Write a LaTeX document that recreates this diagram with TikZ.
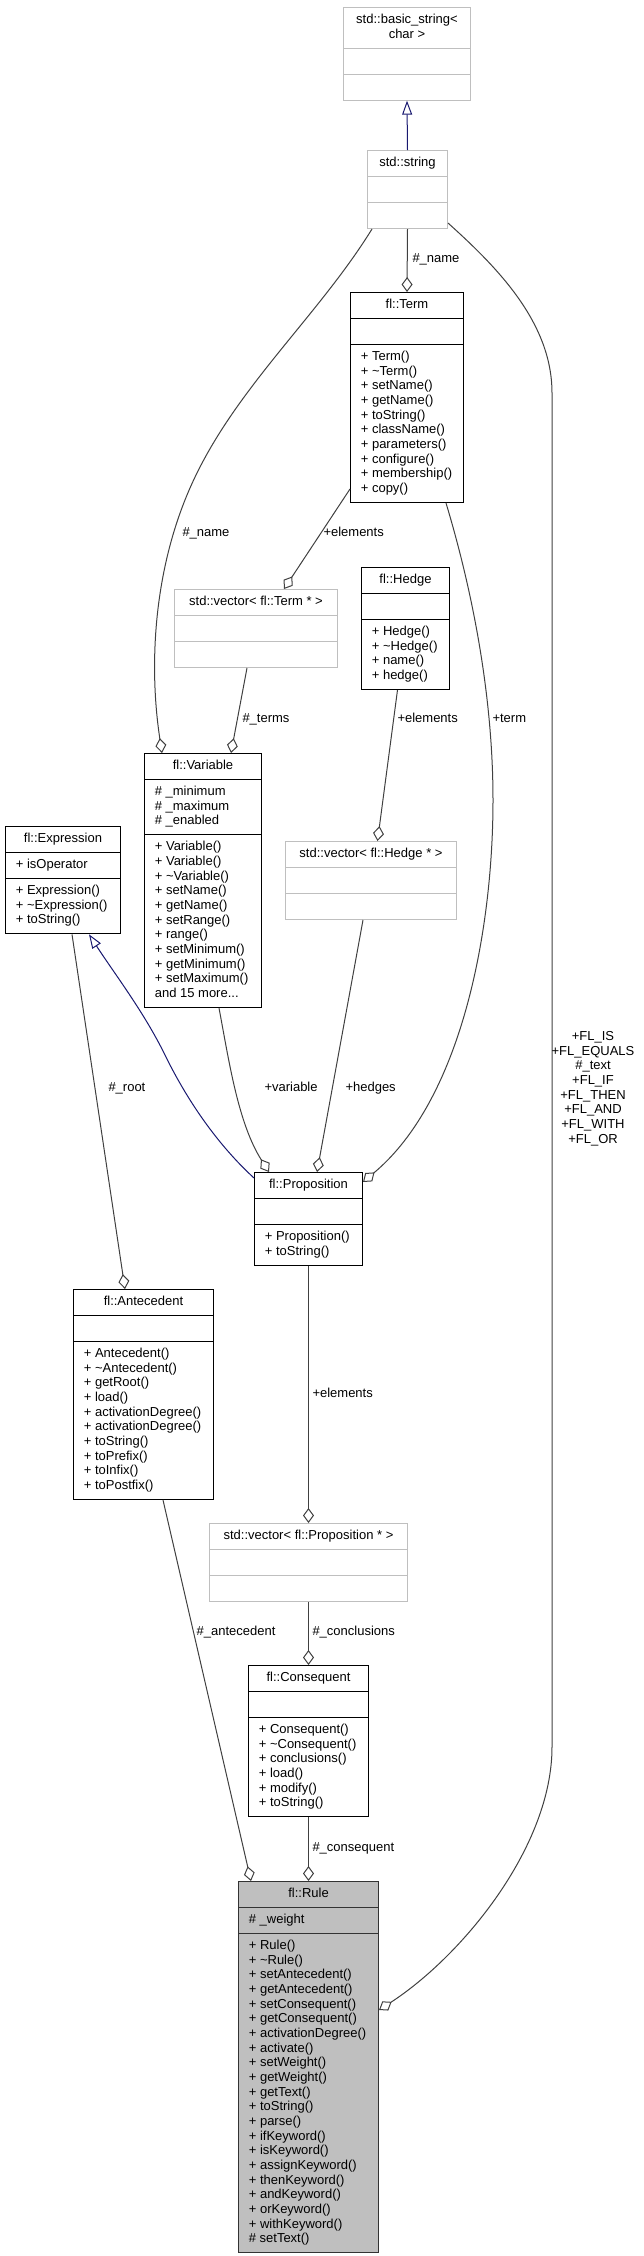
\documentclass[tikz,border=0pt]{standalone}
\usepackage{fontspec}
\setmainfont{Liberation Sans}
\usetikzlibrary{shapes.multipart, arrows.meta, calc}
\definecolor{edgegrey}{HTML}{404040}
\definecolor{stdgrey}{HTML}{BFBFBF}
\definecolor{inhblue}{HTML}{191970}
\definecolor{focusgrey}{HTML}{BFBFBF}

\begin{document}
\begin{tikzpicture}[x=0.75pt, y=-0.75pt, line width=0.75pt]

  \tikzstyle{cls}=[draw, fill=white, anchor=north west, rectangle split, rectangle split parts=3,
    rectangle split part align={center,left,left}, align=left,
    inner xsep=7.75pt, inner ysep=3.875pt,
    rectangle split empty part height=7.7pt, rectangle split empty part depth=3.3pt,
    font=\fontsize{9.75}{11}\selectfont]
  \tikzstyle{stdcls}=[cls, draw=stdgrey]
  \tikzstyle{focus}=[cls, fill=focusgrey, draw=black!80]
  \tikzstyle{lbl}=[inner sep=0pt, anchor=base west, font=\fontsize{9.75}{11}\selectfont]
  \tikzstyle{agg}=[draw=edgegrey, -{Diamond[open, length=11.25pt, width=8.25pt]}]
  \tikzstyle{inh}=[draw=inhblue, -{Triangle[open, length=10.5pt, width=7.5pt]}]

  \useasboundingbox (0,0) rectangle (643,2256);

  % std classes
  \node[stdcls, align=center, minimum width=95.25pt] (bstr) at (343,7)
    {\strut std::basic\_string<\\char >\strut \nodepart{two}\strut \nodepart{three}\strut};
  \node[stdcls, minimum width=60pt] (str) at (367,150)
    {\strut std::string \nodepart{two}\strut \nodepart{three}\strut};
  \node[stdcls, minimum width=122.25pt] (vterm) at (174,589)
    {\strut std::vector< fl::Term * > \nodepart{two}\strut \nodepart{three}\strut};
  \node[stdcls, minimum width=128.25pt] (vhedge) at (285,841)
    {\strut std::vector< fl::Hedge * > \nodepart{two}\strut \nodepart{three}\strut};
  \node[stdcls, minimum width=148.5pt] (vprop) at (209,1523)
    {\strut std::vector< fl::Proposition * > \nodepart{two}\strut \nodepart{three}\strut};

  % fl classes
  \node[cls, minimum width=84.75pt] (term) at (350,292)
    {\strut fl::Term \nodepart{two}\strut
     \nodepart{three}\strut + Term()\\ + \textasciitilde Term()\\ + setName()\\ + getName()\\
     + toString()\\ + className()\\ + parameters()\\ + configure()\\ + membership()\\ + copy()\strut};
  \node[cls, minimum width=66pt] (hedge) at (361,567)
    {\strut fl::Hedge \nodepart{two}\strut
     \nodepart{three}\strut + Hedge()\\ + \textasciitilde Hedge()\\ + name()\\ + hedge()\strut};
  \node[cls, minimum width=87.75pt] (var) at (144,753)
    {\strut fl::Variable
     \nodepart{two}\strut \# \_minimum\\ \# \_maximum\\ \# \_enabled\strut
     \nodepart{three}\strut + Variable()\\ + Variable()\\ + \textasciitilde Variable()\\ + setName()\\
     + getName()\\ + setRange()\\ + range()\\ + setMinimum()\\ + getMinimum()\\ + setMaximum()\\
     and 15 more...\strut};
  \node[cls, minimum width=86.25pt] (expr) at (5,826)
    {\strut fl::Expression \nodepart{two}\strut + isOperator
     \nodepart{three}\strut + Expression()\\ + \textasciitilde Expression()\\ + toString()\strut};
  \node[cls, minimum width=81pt] (prop) at (254,1172)
    {\strut fl::Proposition \nodepart{two}\strut
     \nodepart{three}\strut + Proposition()\\ + toString()\strut};
  \node[cls, minimum width=105pt] (ante) at (73,1289)
    {\strut fl::Antecedent \nodepart{two}\strut
     \nodepart{three}\strut + Antecedent()\\ + \textasciitilde Antecedent()\\ + getRoot()\\ + load()\\
     + activationDegree()\\ + activationDegree()\\ + toString()\\ + toPrefix()\\ + toInfix()\\
     + toPostfix()\strut};
  \node[cls, minimum width=90pt] (cons) at (248,1665)
    {\strut fl::Consequent \nodepart{two}\strut
     \nodepart{three}\strut + Consequent()\\ + \textasciitilde Consequent()\\ + conclusions()\\ + load()\\
     + modify()\\ + toString()\strut};
  \node[focus, minimum width=105pt] (rule) at (238,1881)
    {\strut fl::Rule \nodepart{two}\strut \# \_weight
     \nodepart{three}\strut + Rule()\\ + \textasciitilde Rule()\\ + setAntecedent()\\ + getAntecedent()\\
     + setConsequent()\\ + getConsequent()\\ + activationDegree()\\ + activate()\\ + setWeight()\\
     + getWeight()\\ + getText()\\ + toString()\\ + parse()\\ + ifKeyword()\\ + isKeyword()\\
     + assignKeyword()\\ + thenKeyword()\\ + andKeyword()\\ + orKeyword()\\ + withKeyword()\\
     \# setText()\strut};

  % inheritance
  \draw[inh] (str.north) -- (bstr.south);
  \draw[inh] ($(prop.north west)+(0,6)$) .. controls (217,1144) and (187,1100) .. (165,1055)
    .. controls (144,1012) and (114,973) .. ($(expr.south west)+(84,0)$);

  % usage
  \draw[agg] (str.south) -- (term.north);
  \draw[agg] ($(str.south west)+(5,0)$) .. controls (317,318) and (233,390) .. (190,488)
    .. controls (154,570) and (148.5,664) .. ($(var.north west)+(18,0)$);
  \draw[agg] ($(term.south west)+(0,-14)$) -- ($(vterm.north west)+(110,0)$);
  \draw[agg] ($(vterm.south west)+(73,0)$) -- ($(var.north west)+(87,0)$);
  \draw[agg] ($(hedge.south)+(-8,0)$) -- ($(vhedge.north)+(6.5,0)$);
  \draw[agg] ($(term.south east)+(-18,0)$) .. controls (474,596) and (493,700) .. (493,800)
    .. controls (493,930) and (462,1099) .. ($(prop.north east)+(0,10)$);
  \draw[agg] ($(var.south west)+(75,0)$) .. controls (229,1061) and (238,1123) .. ($(prop.north west)+(15,0)$);
  \draw[agg] ($(vhedge.south west)+(78,0)$) -- ($(prop.north west)+(63,0)$);
  \draw[agg] ($(expr.south west)+(67,0)$) -- ($(ante.north west)+(52,0)$);
  \draw[agg] (prop.south) -- (vprop.north);
  \draw[agg] (vprop.south) -- (cons.north);
  \draw[agg] (cons.south) -- (rule.north);
  \draw[agg] ($(ante.south west)+(90,0)$) -- ($(rule.north west)+(13,0)$);
  \draw[agg] ($(str.south east)+(0,-6)$) .. controls (498,268) and (552,323) .. (552,393)
    -- (552,1747) .. controls (552,1847) and (462,1956) .. ($(rule.north east)+(0,129)$);

  % edge labels
  \node[lbl] (l-name1) at (412,262.5) {\#\_name};
  \node[lbl] (l-name2) at (182,536.5) {\#\_name};
  \node[lbl] (l-elem1) at (323,536.5) {+elements};
  \node[lbl] (l-terms) at (242,722.5) {\#\_terms};
  \node[lbl] (l-elem2) at (397,722.5) {+elements};
  \node[lbl] (l-term) at (492,722.5) {+term};
  \node[lbl] (l-var) at (264,1091.5) {+variable};
  \node[lbl] (l-hedges) at (345,1091.5) {+hedges};
  \node[lbl] (l-root) at (108,1091.5) {\#\_root};
  \node[lbl, anchor=center, align=center] (l-kw) at (593,1089)
    {\strut+FL\_IS\\+FL\_EQUALS\\\#\_text\\+FL\_IF\\+FL\_THEN\\+FL\_AND\\+FL\_WITH\\+FL\_OR\strut};
  \node[lbl] (l-elem3) at (312,1397.5) {+elements};
  \node[lbl, anchor=base east] (l-ante) at (276,1635.5) {\#\_antecedent};
  \node[lbl] (l-concl) at (312,1635.5) {\#\_conclusions};
  \node[lbl] (l-cons) at (312,1851.5) {\#\_consequent};
\end{tikzpicture}
\end{document}
